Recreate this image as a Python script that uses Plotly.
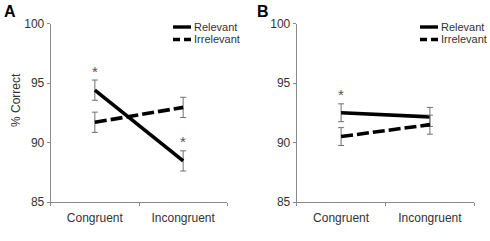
import plotly.graph_objects as go

categories = ["Congruent", "Incongruent"]
cat_pos = [0, 1]

series_names = ["Relevant", "Irrelevant"]
series_dash = ["solid", "12px,4px"]

a_relevant = [94.4, 88.45]
a_relevant_err = [0.85, 0.85]
a_irrelevant = [91.7, 92.95]
a_irrelevant_err = [0.85, 0.85]

b_relevant = [92.5, 92.15]
b_relevant_err = [0.75, 0.8]
b_irrelevant = [90.5, 91.5]
b_irrelevant_err = [0.75, 0.8]

# significance markers: category indices on the Relevant series
sig_a = [0, 1]
sig_b = [0]

y_ticks = [85, 90, 95, 100]

FONT = "Liberation Sans, Arial, sans-serif"
AX = "#8a8a8a"
ERR = "#707070"
W, H = 490, 241

fig = go.Figure()

def add_series(x_ax, y_ax, y, err, name, dash):
    fig.add_trace(go.Scatter(
        x=cat_pos, y=y, mode="lines", name=name, showlegend=False,
        line=dict(color="black", width=3.6, dash=dash),
        error_y=dict(type="data", array=err, visible=True, color=ERR, thickness=1, width=3),
        xaxis=x_ax, yaxis=y_ax, hoverinfo="skip",
    ))

add_series("x", "y", a_relevant, a_relevant_err, series_names[0], series_dash[0])
add_series("x", "y", a_irrelevant, a_irrelevant_err, series_names[1], series_dash[1])
add_series("x2", "y2", b_relevant, b_relevant_err, series_names[0], series_dash[0])
add_series("x2", "y2", b_irrelevant, b_irrelevant_err, series_names[1], series_dash[1])

annotations = []
shapes = []
star_font = dict(size=15, color="#555555", family=FONT)
for i in sig_a:
    annotations.append(dict(x=cat_pos[i], y=a_relevant[i] + a_relevant_err[i], xref="x", yref="y",
                            text="*", showarrow=False, yanchor="middle", yshift=9, font=star_font))
for i in sig_b:
    annotations.append(dict(x=cat_pos[i], y=b_relevant[i] + b_relevant_err[i], xref="x2", yref="y2",
                            text="*", showarrow=False, yanchor="middle", yshift=9, font=star_font))

# panel letters
annotations.append(dict(x=2 / W, y=1 - 1 / H, xref="paper", yref="paper", text="<b>A</b>",
                        showarrow=False, xanchor="left", yanchor="top",
                        font=dict(size=16, color="black", family=FONT)))
annotations.append(dict(x=255 / W, y=1 - 1 / H, xref="paper", yref="paper", text="<b>B</b>",
                        showarrow=False, xanchor="left", yanchor="top",
                        font=dict(size=16, color="black", family=FONT)))
# y-axis title
annotations.append(dict(x=16 / W, y=1 - 100 / H, xref="paper", yref="paper", text="% Correct",
                        showarrow=False, textangle=-90, xanchor="center", yanchor="middle",
                        font=dict(size=12, color="#333333", family=FONT)))

# legends (one per panel)
legend_left = [173, 420]
legend_rows = [27, 39.5]
for lx in legend_left:
    for name, dash, ry in zip(series_names, series_dash, legend_rows):
        shapes.append(dict(type="line", xref="paper", yref="paper",
                           x0=lx / W, x1=(lx + 18) / W, y0=1 - ry / H, y1=1 - ry / H,
                           line=dict(color="black", width=3.4,
                                     dash="solid" if dash == "solid" else "7px,4px")))
        annotations.append(dict(x=(lx + 19) / W, y=1 - ry / H, xref="paper", yref="paper",
                                text=name, showarrow=False, xanchor="left", yanchor="middle",
                                font=dict(size=11, color="#333333", family=FONT)))

def xaxis(domain, anchor):
    return dict(domain=domain, anchor=anchor, range=[-0.5, 1.5], tickvals=cat_pos,
                ticktext=categories, ticks="", showline=True, linecolor=AX, linewidth=1,
                showgrid=False, zeroline=False, fixedrange=True, ticklabelstandoff=5,
                tickfont=dict(size=12, color="#333333", family=FONT),
                minor=dict(tickvals=[-0.5, 0.5, 1.5], ticks="outside", ticklen=3,
                           tickcolor=AX, showgrid=False))

def yaxis(anchor):
    return dict(domain=[1 - 202 / H, 1 - 23.5 / H], anchor=anchor, range=[85, 100], tickvals=y_ticks,
                ticks="outside", ticklen=3, tickcolor=AX, showline=True, linecolor=AX,
                linewidth=1, showgrid=False, zeroline=False, fixedrange=True,
                tickfont=dict(size=12, color="#333333", family=FONT))

fig.update_layout(
    width=W, height=H,
    margin=dict(l=0, r=0, t=0, b=0, autoexpand=False),
    paper_bgcolor="white", plot_bgcolor="white",
    xaxis=xaxis([50.7 / W, 227.3 / W], "y"),
    yaxis=yaxis("x"),
    xaxis2=xaxis([296.7 / W, 474.3 / W], "y2"),
    yaxis2=yaxis("x2"),
    annotations=annotations,
    shapes=shapes,
    showlegend=False,
    hovermode=False,
)

fig.write_html("out.html", config={"displayModeBar": False},
               post_script="document.body.style.margin='0';document.body.style.overflow='hidden';")
